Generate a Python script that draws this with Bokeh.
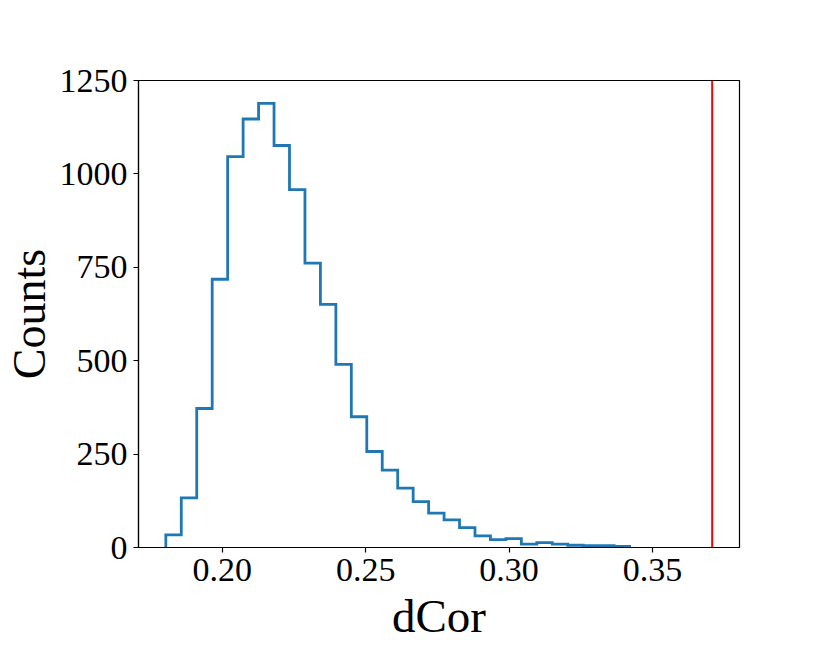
import numpy as np
from bokeh.plotting import figure
from bokeh.models import Range1d, FixedTicker, PrintfTickFormatter, Span
from bokeh.embed import file_html
from bokeh.resources import INLINE

# ---- data ----
hist_start = 0.1803
hist_end = 0.3420
counts = [34, 133, 372, 718, 1046, 1147, 1189, 1076, 958, 761,
          651, 490, 350, 257, 207, 159, 123, 92, 74, 53,
          31, 21, 24, 9, 13, 9, 6, 5, 5, 3]
observed = 0.3708
x_ticks = [0.20, 0.25, 0.30, 0.35]
y_ticks = [0, 250, 500, 750, 1000, 1250]

edges = np.linspace(hist_start, hist_end, len(counts) + 1)
xs = np.repeat(edges, 2)
ys = np.concatenate([[0], np.repeat(counts, 2), [0]])

lo, hi = hist_start, observed
pad = 0.05 * (hi - lo)

FONT = "Liberation Serif"

p = figure(width=806, height=651, output_backend="svg", toolbar_location=None,
           x_range=Range1d(lo - pad, hi + pad), y_range=Range1d(0, 1250),
           frame_width=601, frame_height=467,
           min_border_left=130, min_border_right=60,
           min_border_top=80, min_border_bottom=100)

p.line(xs, ys, line_color="#1f77b4", line_width=2.8, line_join="miter")
p.add_layout(Span(location=observed, dimension="height", line_color="red", line_width=2))

p.grid.visible = False
p.outline_line_color = "black"
p.outline_line_width = 1.2
p.outline_line_alpha = 1.0

p.xaxis.ticker = FixedTicker(ticks=x_ticks)
p.xaxis.formatter = PrintfTickFormatter(format="%.2f")
p.yaxis.ticker = FixedTicker(ticks=y_ticks)

for ax in (p.xaxis[0], p.yaxis[0]):
    ax.major_label_text_font = FONT
    ax.major_label_text_font_size = "34px"
    ax.major_label_text_color = "black"
    ax.axis_label_text_font = FONT
    ax.axis_label_text_font_style = "normal"
    ax.axis_label_text_color = "black"
    ax.axis_line_color = "black"
    ax.axis_line_width = 1.2
    ax.major_tick_line_color = "black"
    ax.major_tick_line_width = 1.2
    ax.major_tick_out = 5
    ax.major_tick_in = 0
    ax.minor_tick_out = 0
    ax.minor_tick_in = 0
    ax.major_label_standoff = 6

p.xaxis.axis_label = "dCor"
p.xaxis.axis_label_text_font_size = "47px"
p.xaxis.axis_label_standoff = 6
p.yaxis.axis_label = "Counts"
p.yaxis.axis_label_text_font_size = "46px"
p.yaxis.axis_label_standoff = 2

open("out.html", "w").write(file_html(p, INLINE))
